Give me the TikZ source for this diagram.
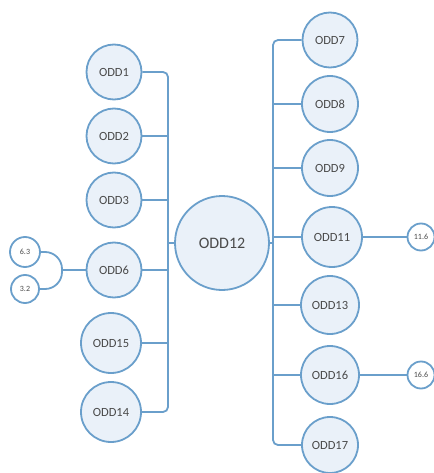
\documentclass[tikz,border=0pt]{standalone}
\usepackage{fontspec}
\setmainfont{Carlito}
\definecolor{edgeblue}{HTML}{6A9FCB}
\definecolor{fillblue}{HTML}{EAF1F9}
\definecolor{txtgray}{HTML}{4A4A4A}
\begin{document}
\begin{tikzpicture}[x=1pt,y=-1pt,
  bub/.style={circle,draw=edgeblue,fill=fillblue,line width=1.8pt,inner sep=0pt,
    text=txtgray,font=\fontsize{12.5}{14}\selectfont},
  small/.style={circle,draw=edgeblue,fill=white,line width=1.8pt,inner sep=0pt,
    minimum size=27pt,text=txtgray,font=\fontsize{8}{9}\selectfont},
  link/.style={draw=edgeblue,line width=1.8pt}]
\useasboundingbox (0,0) rectangle (433,473);
% centre
\node[bub,minimum size=94pt,font=\fontsize{16}{18}\selectfont] (c) at (222,243) {ODD12};
% left
\node[bub,minimum size=55pt] (o1) at (114,72) {ODD1};
\node[bub,minimum size=55pt] (o2) at (114,136) {ODD2};
\node[bub,minimum size=55pt] (o3) at (114,200) {ODD3};
\node[bub,minimum size=55pt] (o6) at (114,270) {ODD6};
\node[bub,minimum size=60pt] (o15) at (111,343) {ODD15};
\node[bub,minimum size=60pt] (o14) at (111,412) {ODD14};
% right
\node[bub,minimum size=55pt] (o7) at (330,40) {ODD7};
\node[bub,minimum size=56pt] (o8) at (330,104) {ODD8};
\node[bub,minimum size=56pt] (o9) at (330,168) {ODD9};
\node[bub,minimum size=60pt] (o11) at (332,237) {ODD11};
\node[bub,minimum size=58pt] (o13) at (330,305) {ODD13};
\node[bub,minimum size=58pt] (o16) at (330,375) {ODD16};
\node[bub,minimum size=56pt] (o17) at (330,445) {ODD17};
% small
\node[small,minimum size=30pt] (s63) at (25,252) {6.3};
\node[small,minimum size=28pt] (s32) at (25,289) {3.2};
\node[small] (s116) at (421,237) {11.6};
\node[small] (s166) at (421,375) {16.6};
% coordinates
\coordinate (lt) at (168,72);
\coordinate (lb) at (168,412);
\coordinate (rt) at (273,40);
\coordinate (rb) at (273,445);
\coordinate (jt) at (62,252);
\coordinate (jb) at (62,289);
\coordinate (j6) at (62,270);
% left bus
\begin{scope}[on background layer/.style={}]
\draw[link,rounded corners=5pt] (o1.east) -- (lt) -- (lb) -- (o14.east);
\foreach \n in {o2,o3,o6,o15} \draw[link] (\n.east) -- (\n.east -| lt);
\draw[link] (c.west) -- (c.west -| lt);
% right bus
\draw[link,rounded corners=5pt] (o7.west) -- (rt) -- (rb) -- (o17.west);
\foreach \n in {o8,o9,o11,o13,o16} \draw[link] (\n.west) -- (\n.west -| rt);
\draw[link] (c.east) -- (c.east -| rt);
\draw[link] (o11.east) -- (s116.west);
\draw[link] (o16.east) -- (s166.west);
% bracket
\draw[link,rounded corners=17pt] (s63.east) -- (jt) -- (jb) -- (s32.east);
\draw[link] (o6.west) -- (j6);
\end{scope}
\end{tikzpicture}
\end{document}
